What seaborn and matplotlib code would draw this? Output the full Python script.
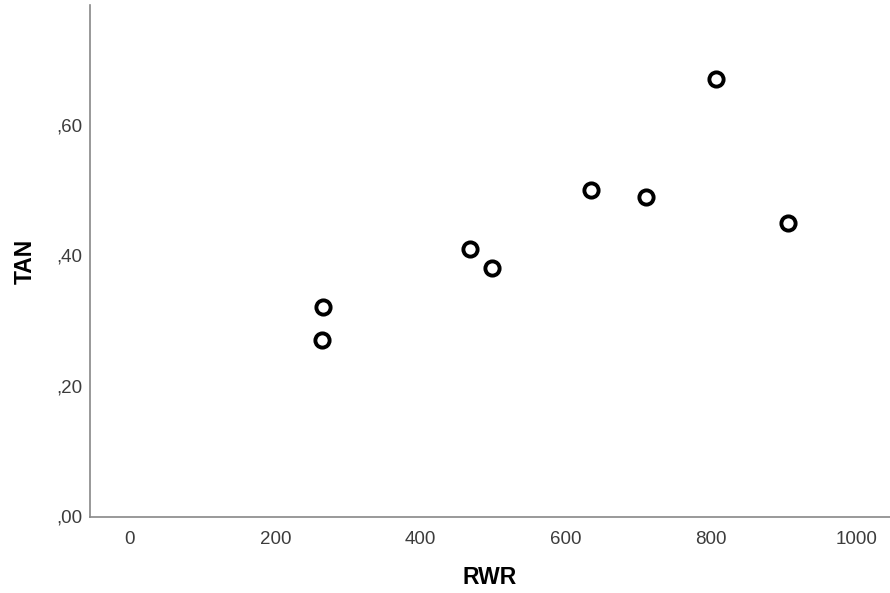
import matplotlib
matplotlib.use('Agg')
import matplotlib.pyplot as plt
import numpy as np
import pandas as pd
import seaborn as sns

sns.set_style('white')
plt.rcParams['font.family'] = ['Liberation Sans', 'DejaVu Sans']

# valores
rwr = [266, 264, 468, 498, 635, 710, 807, 905]
tan = [0.32, 0.27, 0.41, 0.38, 0.50, 0.49, 0.67, 0.45]
xticks = [0, 200, 400, 600, 800, 1000]
yticks = [0.0, 0.2, 0.4, 0.6]
yticklabels = [',00', ',20', ',40', ',60']

df = pd.DataFrame({'RWR': rwr, 'TAN': tan})

fig = plt.figure(figsize=(8.9, 5.93), dpi=100)
ax = fig.add_axes([89.5 / 890, (593 - 517) / 593, (890 - 89.5) / 890, (517 - 5) / 593])

sns.scatterplot(data=df, x='RWR', y='TAN', ax=ax, marker='o', s=105,
                color='white', edgecolor='black', linewidth=2.8, zorder=3)

ax.set_xlim(-55.7, 1045.8)
ax.set_ylim(-0.0015, 0.784)
ax.set_xticks(xticks)
ax.set_xticklabels([str(t) for t in xticks])
ax.set_yticks(yticks)
ax.set_yticklabels(yticklabels)
ax.tick_params(axis='both', length=0, labelsize=13.5, labelcolor='#3c3c3c')
ax.tick_params(axis='x', pad=10)
ax.tick_params(axis='y', pad=5)

for s in ['top', 'right']:
    ax.spines[s].set_visible(False)
for s in ['left', 'bottom']:
    ax.spines[s].set_color('#888888')
    ax.spines[s].set_linewidth(1.2)

ax.set_xlabel('RWR', fontsize=16.5, fontweight='bold', labelpad=13, color='black')
ax.set_ylabel('TAN', fontsize=16.5, fontweight='bold', labelpad=14, color='black')

fig.savefig('out.png', dpi=100)
